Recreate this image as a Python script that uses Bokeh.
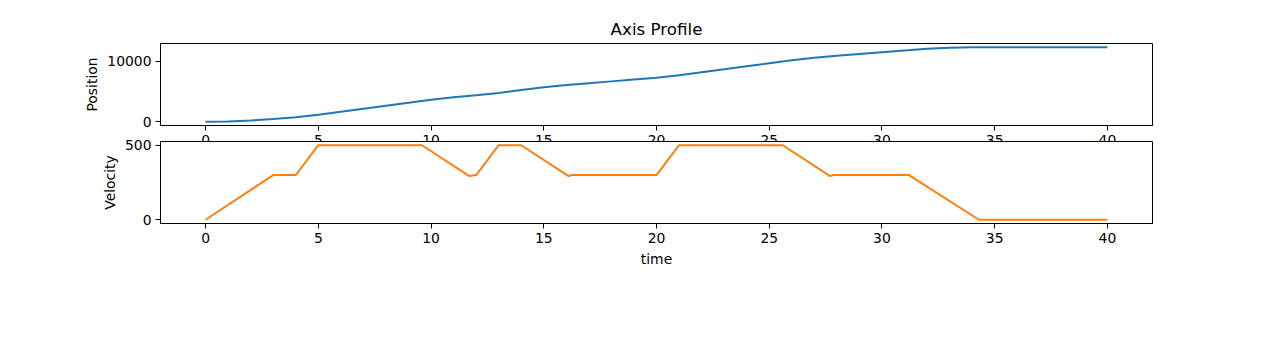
from bokeh.plotting import figure
from bokeh.layouts import column
from bokeh.models import Range1d, FixedTicker
from bokeh.embed import file_html
from bokeh.resources import INLINE

# ---- data ----
pos_time = list(range(0, 41))
position = [0, 50, 200, 450, 750, 1150, 1650, 2150, 2650, 3150, 3640, 4060, 4380,
            4780, 5280, 5730, 6090, 6390, 6690, 6990, 7290, 7690, 8190, 8690, 9190,
            9690, 10180, 10600, 10920, 11220, 11520, 11820, 12090, 12260, 12340,
            12345, 12345, 12345, 12345, 12345, 12345]

vel_time = [0, 3, 4, 5, 9.6, 11.7, 12.0, 13.0, 14.0, 16.1, 16.25, 20.0, 21.0,
            25.6, 27.7, 27.85, 31.2, 34.3, 40]
velocity = [0, 300, 300, 500, 500, 293, 300, 500, 500, 293, 300, 300, 500,
            500, 293, 300, 300, 0, 0]

time_ticks = [0, 5, 10, 15, 20, 25, 30, 35, 40]
pos_ticks = [0, 10000]
vel_ticks = [0, 500]

title_text = "Axis Profile"
x_label = "time"
pos_label = "Position"
vel_label = "Velocity"

BLUE = "#1f77b4"
ORANGE = "#ff7f0e"
FONT = "DejaVu Sans"
TICK_SIZE = "13.9px"


def padded(vals):
    lo, hi = min(vals), max(vals)
    pad = 0.05 * (hi - lo)
    return Range1d(lo - pad, hi + pad)


def style(p, yticks, ylabel):
    p.grid.visible = False
    p.outline_line_color = "black"
    p.outline_line_width = 1
    p.background_fill_color = "white"
    for ax in (p.xaxis[0], p.yaxis[0]):
        ax.major_tick_out = 5
        ax.major_tick_in = 0
        ax.minor_tick_line_color = None
        ax.major_tick_line_color = "black"
        ax.axis_line_color = "black"
        ax.major_label_text_font = FONT
        ax.major_label_text_font_size = TICK_SIZE
        ax.major_label_text_color = "black"
        ax.axis_label_text_font = FONT
        ax.axis_label_text_font_size = TICK_SIZE
        ax.axis_label_text_font_style = "normal"
        ax.axis_label_text_color = "black"
        ax.major_label_standoff = 4
    p.xaxis.ticker = FixedTicker(ticks=time_ticks)
    p.yaxis.ticker = FixedTicker(ticks=yticks)
    p.yaxis.axis_label = ylabel
    p.yaxis.axis_label_standoff = 4


top = figure(frame_width=992, frame_height=82, output_backend="svg",
             toolbar_location=None, x_range=padded(pos_time), y_range=padded(position),
             min_border_left=160, min_border_right=20, min_border_top=43,
             min_border_bottom=40, title=title_text)
top.title.text_font = FONT
top.title.text_font_size = "16.7px"
top.title.text_font_style = "normal"
top.title.align = "center"
top.title.text_color = "black"
top.line(pos_time, position, line_color=BLUE, line_width=2)
style(top, pos_ticks, pos_label)

bot = figure(frame_width=992, frame_height=82, output_backend="svg",
             toolbar_location=None, x_range=padded(vel_time), y_range=padded(velocity),
             min_border_left=160, min_border_right=20, min_border_top=10,
             min_border_bottom=50, margin=(-34, 0, 0, 0))
bot.border_fill_alpha = 0
bot.line(vel_time, velocity, line_color=ORANGE, line_width=2)
style(bot, vel_ticks, vel_label)
bot.xaxis.axis_label = x_label

layout = column(top, bot)
open("out.html", "w").write(file_html(layout, INLINE))
